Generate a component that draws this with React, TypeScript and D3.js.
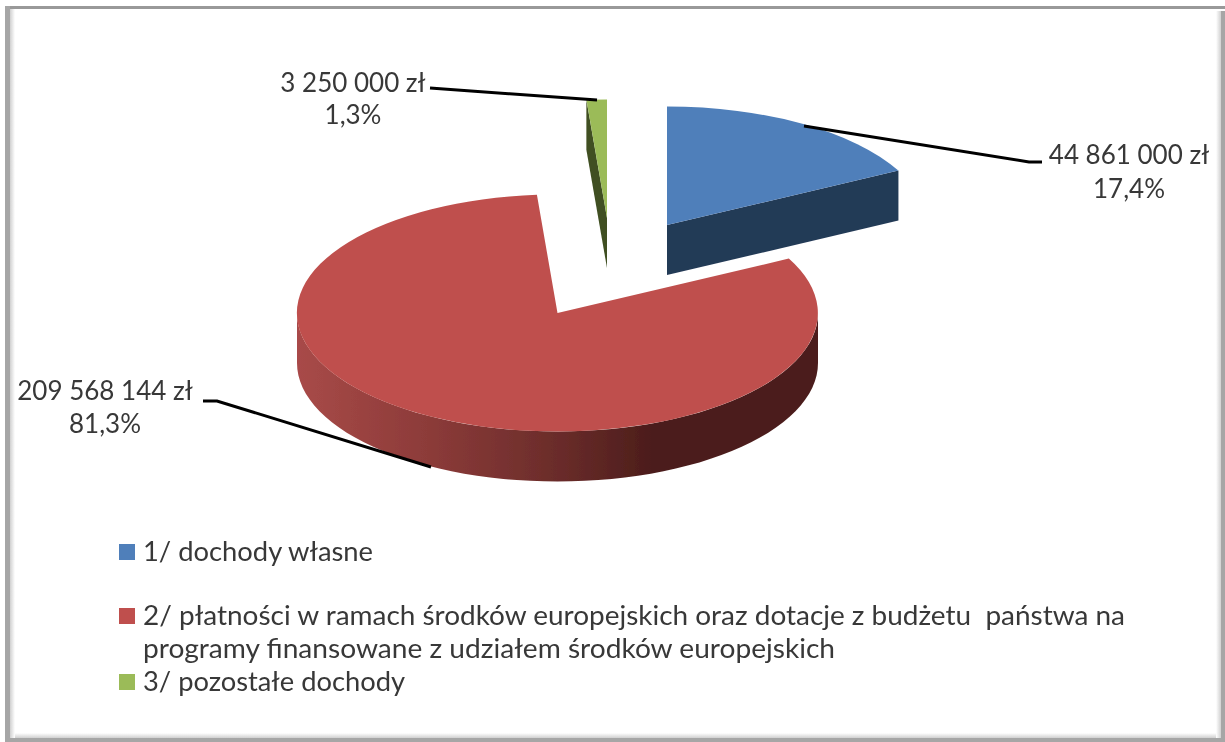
import * as d3 from 'd3';

const categories = [
    '1/ dochody własne',
    '2/ płatności w ramach środków europejskich oraz dotacje z budżetu  państwa na',
    '3/ pozostałe dochody',
];
const legendContinuation = 'programy finansowane z udziałem środków europejskich';
const values = [44861000, 209568144, 3250000];
const amountLabels = ['44 861 000 zł', '209 568 144 zł', '3 250 000 zł'];
const percentLabels = ['17,4%', '81,3%', '1,3%'];
const topColors = ['#4f7fba', '#bf504d', '#9bbb59'];
const wallColors = ['#243a57', '#8a3b39', '#3f4f22'];

const width = 1225;
const height = 742;
const rx = 260.5;
const ry = 118.5;
const depth = 50;
const fontFamily = 'Lato, "Open Sans", sans-serif';
const textColor = '#383838';
// exploded slice centres
const centers = [
    { x: 667, y: 225 },
    { x: 557.5, y: 313 },
    { x: 607, y: 218 },
];
const labelLayout = [
    { x: 1129, y1: 164, y2: 198, line: [[804, 126], [1029, 162], [1042, 162]] },
    { x: 105, y1: 400, y2: 433, line: [[431, 467], [217, 401], [203, 401]] },
    { x: 353, y1: 92, y2: 124, line: [[430, 88], [597, 100]] },
];
const legendRows = [
    { text: categories[0], color: topColors[0], y: 561, w: 230 },
    { text: categories[1], color: topColors[1], y: 625, w: 982 },
    { text: legendContinuation, color: null, y: 658, w: 692 },
    { text: categories[2], color: topColors[2], y: 691, w: 262 },
];

const pie = d3.pie<number>().sort(null)(values);
const arc = d3.arc<d3.PieArcDatum<number>>().innerRadius(0).outerRadius(1);

const px = (c: { x: number }, a: number) => c.x + rx * Math.sin(a);
const py = (c: { y: number }, a: number) => c.y - ry * Math.cos(a);

// side wall along the rim between two angles
const rimWall = (c: { x: number; y: number }, a0: number, a1: number) => {
    const angles = d3.range(0, 61).map((i) => a0 + ((a1 - a0) * i) / 60);
    const top = angles.map((a) => [px(c, a), py(c, a)] as [number, number]);
    const bottom = top.map(([x, y]) => [x, y + depth] as [number, number]).reverse();
    return d3.line()([...top, ...bottom]) + 'Z';
};

// flat cut face from the apex to the rim
const cutWall = (c: { x: number; y: number }, a: number) => {
    const rim: [number, number] = [px(c, a), py(c, a)];
    return d3.line()([
        [c.x, c.y],
        rim,
        [rim[0], rim[1] + depth],
        [c.x, c.y + depth],
    ]) + 'Z';
};

const leader = d3.line();

export default function App() {
    const [blue, red, green] = pie;
    return (
        <svg
            width={width}
            height={height}
            style={{ position: 'absolute', left: 0, top: 0 }}
            fontFamily={fontFamily}
        >
            <defs>
                <linearGradient id="redWall" gradientUnits="userSpaceOnUse" x1={298} x2={819} y1={0} y2={0}>
                    <stop offset="0" stopColor="#a84a48" />
                    <stop offset="0.25" stopColor="#8c3b39" />
                    <stop offset="0.5" stopColor="#6a2c2a" />
                    <stop offset="0.68" stopColor="#4c1d1b" />
                    <stop offset="1" stopColor="#4c1d1b" />
                </linearGradient>
                <linearGradient id="fadeLeft" x1="0" x2="1" y1="0" y2="0">
                    <stop offset="0" stopColor="#d0d0d0" />
                    <stop offset="1" stopColor="#ffffff" />
                </linearGradient>
                <linearGradient id="fadeRight" x1="1" x2="0" y1="0" y2="0">
                    <stop offset="0" stopColor="#d0d0d0" />
                    <stop offset="1" stopColor="#ffffff" />
                </linearGradient>
                <linearGradient id="fadeBottom" x1="0" x2="0" y1="1" y2="0">
                    <stop offset="0" stopColor="#d0d0d0" />
                    <stop offset="1" stopColor="#ffffff" />
                </linearGradient>
                <filter id="soft" x="0" y="0" width="100%" height="100%">
                    <feGaussianBlur stdDeviation="0.55" />
                </filter>
            </defs>
            <rect width={width} height={height} fill="#ffffff" />

            <g filter="url(#soft)">
                {/* frame */}
                <rect x={5} y={6} width={1220} height={3} fill="#999999" />
                <rect x={5} y={6} width={5} height={736} fill="#a6a6a6" />
                <rect x={10} y={9} width={5} height={729} fill="url(#fadeLeft)" />
                <rect x={1221} y={11} width={4} height={731} fill="#a6a6a6" />
                <rect x={1216} y={11} width={5} height={727} fill="url(#fadeRight)" />
                <rect x={5} y={738} width={1220} height={4} fill="#a6a6a6" />
                <rect x={15} y={733} width={1201} height={5} fill="url(#fadeBottom)" />

                {/* red body */}
                <path d={rimWall(centers[1], Math.PI / 2, Math.PI * 1.5)} fill="url(#redWall)" />
                <path
                    d={arc(red) || ''}
                    transform={`translate(${centers[1].x},${centers[1].y}) scale(${rx},${ry})`}
                    fill={topColors[1]}
                />

                {/* blue body */}
                <path d={cutWall(centers[0], blue.endAngle)} fill={wallColors[0]} />
                <path
                    d={arc(blue) || ''}
                    transform={`translate(${centers[0].x},${centers[0].y}) scale(${rx},${ry})`}
                    fill={topColors[0]}
                />

                {/* green body */}
                <path d={cutWall(centers[2], green.startAngle)} fill={wallColors[2]} />
                <path
                    d={arc(green) || ''}
                    transform={`translate(${centers[2].x},${centers[2].y}) scale(${rx},${ry})`}
                    fill={topColors[2]}
                />

                {/* leader lines and labels */}
                {labelLayout.map((l, i) => (
                    <g key={i}>
                        <path d={leader(l.line as [number, number][]) || ''} fill="none" stroke="#000000" strokeWidth={3} />
                        <text x={l.x} y={l.y1} textAnchor="middle" fontSize={26} fill={textColor}>
                            {amountLabels[i]}
                        </text>
                        <text x={l.x} y={l.y2} textAnchor="middle" fontSize={26} fill={textColor}>
                            {percentLabels[i]}
                        </text>
                    </g>
                ))}

                {/* legend */}
                {legendRows.map((row) => (
                    <g key={row.y}>
                        {row.color && <rect x={119} y={row.y - 17} width={16} height={16} fill={row.color} />}
                        <text
                            x={143}
                            y={row.y}
                            fontSize={26}
                            fill={textColor}
                            textLength={row.w}
                            lengthAdjust="spacingAndGlyphs"
                            style={{ whiteSpace: 'pre' }}
                        >
                            {row.text}
                        </text>
                    </g>
                ))}
            </g>
        </svg>
    );
}
